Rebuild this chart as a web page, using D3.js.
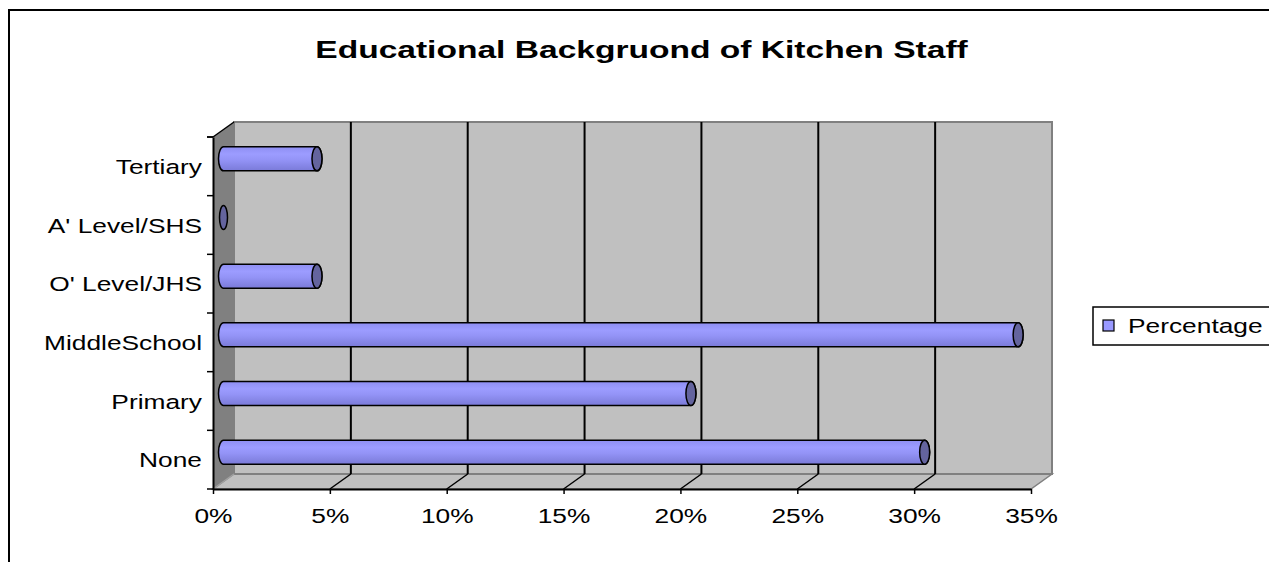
<!DOCTYPE html>
<html>
<head>
<meta charset="utf-8">
<script src="https://d3js.org/d3.v7.min.js"></script>
<style>
  html, body { margin: 0; padding: 0; background: #fff; }
  svg { display: block; }
  text { font-family: "Liberation Sans", Arial, sans-serif; }
</style>
</head>
<body>
<svg id="chart" width="1269" height="562"></svg>
<script>
// ---- Data ----
const title = "Educational Backgruond of Kitchen Staff";
const categories = ["None", "Primary", "MiddleSchool", "O' Level/JHS", "A' Level/SHS", "Tertiary"];
const percentages = [30, 20, 34, 4, 0, 4];
const tickValues = [0, 5, 10, 15, 20, 25, 30, 35];
const seriesName = "Percentage";

// ---- Layout ----
const W = 1269, H = 562;
const SX = 1.35;          // horizontal stretch of the original text
const FS = 19.5;
const plot = { left: 213, right: 1031, top: 137, bottom: 489 };
const depth = { dx: 21, dy: -15 };

const svg = d3.select("#chart");

const x = d3.scaleLinear().domain([0, 35]).range([plot.left, plot.right]);
const y = d3.scaleBand().domain(categories).range([plot.bottom, plot.top]).paddingInner(0).paddingOuter(0);

// gradient for bars
const defs = svg.append("defs");
const grad = defs.append("linearGradient").attr("id", "barGrad")
  .attr("x1", 0).attr("y1", 0).attr("x2", 0).attr("y2", 1);
grad.append("stop").attr("offset", "0%").attr("stop-color", "#8e8ef2");
grad.append("stop").attr("offset", "30%").attr("stop-color", "#9c9cff");
grad.append("stop").attr("offset", "55%").attr("stop-color", "#9393f6");
grad.append("stop").attr("offset", "100%").attr("stop-color", "#7a7ad8");

// outer border
svg.append("rect").attr("x", 9).attr("y", 10).attr("width", W + 20).attr("height", H + 20)
  .attr("fill", "none").attr("stroke", "#000").attr("stroke-width", 2);

// title
svg.append("text")
  .attr("transform", `translate(${W / 2 + 7},58) scale(1.37,1)`)
  .attr("text-anchor", "middle")
  .attr("font-size", 24.5).attr("font-weight", "bold")
  .text(title);

// ---- 3D walls ----
const x0 = x(0), x1 = x(35);
const yT = plot.top, yB = plot.bottom;
const bx0 = x0 + depth.dx, bx1 = x1 + depth.dx;
const byT = yT + depth.dy, byB = yB + depth.dy;

// left wall
svg.append("polygon")
  .attr("points", [[x0, yT], [bx0, byT], [bx0, byB], [x0, yB]].map(p => p.join(",")).join(" "))
  .attr("fill", "#808080").attr("stroke", "none");
// floor
svg.append("polygon")
  .attr("points", [[x0, yB], [bx0, byB], [bx1, byB], [x1, yB]].map(p => p.join(",")).join(" "))
  .attr("fill", "#c0c0c0").attr("stroke", "#808080").attr("stroke-width", 1.5);
// back wall
svg.append("rect")
  .attr("x", bx0).attr("y", byT).attr("width", bx1 - bx0).attr("height", byB - byT)
  .attr("fill", "#c0c0c0").attr("stroke", "#808080").attr("stroke-width", 2);
// left wall top edge
svg.append("line").attr("x1", x0).attr("y1", yT).attr("x2", bx0).attr("y2", byT)
  .attr("stroke", "#000").attr("stroke-width", 1.5);

// gridlines
const inner = tickValues.filter(t => t > 0 && t < 35);
svg.append("g").selectAll("line.gv").data(inner).join("line")
  .attr("x1", d => x(d) + depth.dx).attr("x2", d => x(d) + depth.dx)
  .attr("y1", byT).attr("y2", byB)
  .attr("stroke", "#000").attr("stroke-width", 2);
svg.append("g").selectAll("line.gf").data(inner).join("line")
  .attr("x1", d => x(d)).attr("x2", d => x(d) + depth.dx)
  .attr("y1", yB).attr("y2", byB)
  .attr("stroke", "#000").attr("stroke-width", 1.5);
svg.append("line").attr("x1", x0).attr("y1", yB).attr("x2", bx0).attr("y2", byB)
  .attr("stroke", "#a0a0a0").attr("stroke-width", 1.5);

// ---- Bars (cylinders) ----
const data = categories.map((c, i) => ({ cat: c, v: percentages[i] }));
const bw = y.bandwidth() * 0.41;
const r = bw / 2, rx = 5;
const bars = svg.append("g");
data.forEach(d => {
  const cy = y(d.cat) + y.bandwidth() / 2 + depth.dy / 2;
  const sx = x(0) + depth.dx / 2;
  const ex = x(d.v) + depth.dx / 2;
  if (ex > sx) {
    bars.append("path")
      .attr("d", `M${sx},${cy - r} L${ex},${cy - r} A${rx},${r} 0 0 1 ${ex},${cy + r} L${sx},${cy + r} A${rx},${r} 0 0 1 ${sx},${cy - r} Z`)
      .attr("fill", "url(#barGrad)").attr("stroke", "#000").attr("stroke-width", 1.5);
  }
  bars.append("ellipse")
    .attr("cx", ex).attr("cy", cy).attr("rx", ex > sx ? rx : rx - 1).attr("ry", r)
    .attr("fill", "#64649e").attr("stroke", "#000").attr("stroke-width", 1.5);
});

// ---- Axes ----
const xAxis = svg.append("g").attr("transform", `translate(0,${yB})`)
  .call(d3.axisBottom(x).tickValues(tickValues).tickFormat(d => d + "%").tickSize(5).tickSizeOuter(0).tickPadding(15));
xAxis.select(".domain").attr("stroke", "#000").attr("stroke-width", 2);
xAxis.selectAll(".tick line").attr("stroke", "#000").attr("stroke-width", 1.5);
xAxis.selectAll(".tick text")
  .attr("font-size", FS).attr("font-family", "Liberation Sans, Arial, sans-serif").attr("fill", "#000")
  .attr("transform", `scale(${SX},1)`);

const yAxis = svg.append("g").attr("transform", `translate(${x0},0)`)
  .call(d3.axisLeft(y).tickSize(0).tickPadding(0));
yAxis.select(".domain").attr("stroke", "#000").attr("stroke-width", 2);
yAxis.selectAll(".tick text")
  .attr("font-size", FS).attr("font-family", "Liberation Sans, Arial, sans-serif").attr("fill", "#000")
  .attr("x", -11 / SX).attr("dy", "0.4em")
  .attr("transform", `scale(${SX},1)`);
// boundary ticks
yAxis.append("g").selectAll("line").data(categories.map(c => y(c)).concat([plot.top]))
  .join("line")
  .attr("x1", -6).attr("x2", 0).attr("y1", d => d).attr("y2", d => d)
  .attr("stroke", "#000").attr("stroke-width", 1.5);
yAxis.append("line").attr("x1", -6).attr("x2", 0).attr("y1", yB).attr("y2", yB)
  .attr("stroke", "#000").attr("stroke-width", 1.5);

// ---- Legend ----
const lg = svg.append("g").attr("transform", "translate(1093,307)");
lg.append("rect").attr("width", 200).attr("height", 38)
  .attr("fill", "#fff").attr("stroke", "#000").attr("stroke-width", 1.5);
lg.append("rect").attr("x", 10).attr("y", 13).attr("width", 11).attr("height", 11)
  .attr("fill", "#9999ff").attr("stroke", "#000").attr("stroke-width", 1.2);
lg.append("text")
  .attr("transform", `translate(35,26) scale(${SX},1)`)
  .attr("font-size", FS).attr("fill", "#000")
  .text(seriesName);
</script>
</body>
</html>
